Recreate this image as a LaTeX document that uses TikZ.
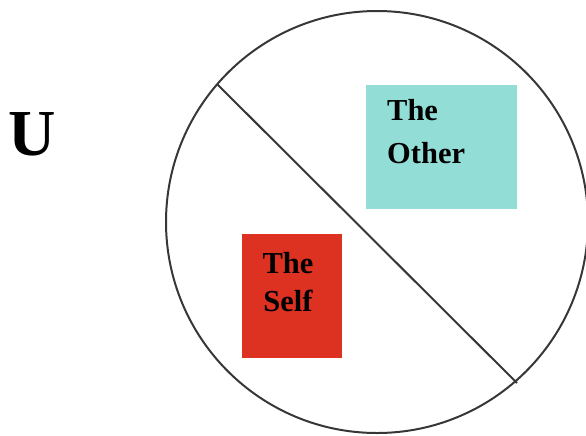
\documentclass[tikz,border=0pt]{standalone}
\usepackage{fontspec}
\setmainfont{Liberation Serif}
\usetikzlibrary{positioning}
\definecolor{otherteal}{RGB}{146,222,215}
\definecolor{selfred}{RGB}{221,50,34}
\definecolor{ringgray}{RGB}{55,55,55}

\begin{document}
\begin{tikzpicture}[
  x=0.03cm, y=-0.03cm,
  % ring and cut line
  ring/.style={draw=ringgray, line width=1.7pt},
  % coloured set box
  setbox/.style={rectangle, inner sep=0pt},
  % box text
  settext/.style={font=\fontsize{26}{32}\selectfont\bfseries, inner sep=0pt}
]

% ─── Frame (reference size 586 x 435) ──────────────────────────────────────
\useasboundingbox (0,0) rectangle (586,435);
\clip (0,0) rectangle (586,435);

% ─── Universe label ────────────────────────────────────────────────────────
\node[font=\fontsize{56}{60}\selectfont\bfseries, inner sep=0pt]
  (universe) at (32,134) {U};

% ─── Circle and the line that splits it ───────────────────────────────────
\coordinate (centre) at (377,222);
\draw[ring] (centre) circle [radius=211];
\coordinate (cut_top) at (217,84);
\coordinate (cut_bot) at (517,383);
\draw[ring] (cut_top) -- (cut_bot);

% ─── The Other (teal) ──────────────────────────────────────────────────────
\node[setbox, fill=otherteal, minimum width=151*0.03cm,
      minimum height=124*0.03cm] (other_box) at (441.5,147) {};
\node[settext, anchor=base west] (other_the) at (387,120) {The};
\node[settext, anchor=base west] (other_word) at (387,163) {Other};

% ─── The Self (red) ────────────────────────────────────────────────────────
\node[setbox, fill=selfred, minimum width=100*0.03cm,
      minimum height=124*0.03cm] (self_box) at (292,296) {};
\node[settext, anchor=base] (self_the) at (288,273) {The};
\node[settext, anchor=base] (self_word) at (288,311) {Self};

\end{tikzpicture}
\end{document}
